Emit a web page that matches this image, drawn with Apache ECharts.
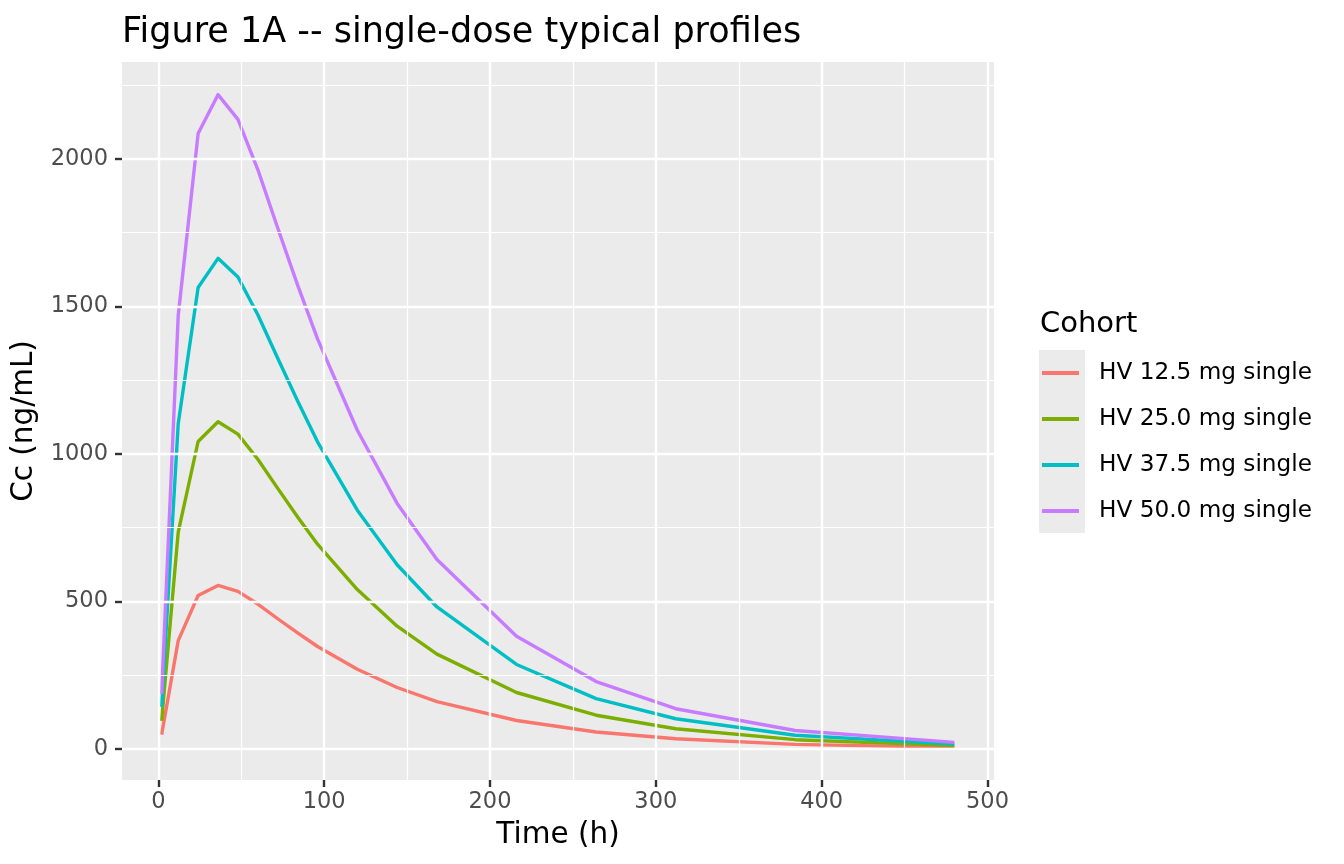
<!DOCTYPE html>
<html>
<head>
<meta charset="utf-8">
<script src="https://cdn.jsdelivr.net/npm/echarts@6/dist/echarts.min.js"></script>
<style>html,body{margin:0;padding:0;background:#fff}#c{width:1344px;height:864px}</style>
</head>
<body>
<div id="c"></div>
<script>
// ---- data ----
const timeH = [2, 12, 24, 36, 48, 60, 72, 84, 96, 120, 144, 168, 216, 264, 312, 384, 480];
const cohorts = ['HV 12.5 mg single', 'HV 25.0 mg single', 'HV 37.5 mg single', 'HV 50.0 mg single'];
const cc12_5 = [48, 367, 520, 554, 534, 491, 441, 393, 347, 270, 208, 160, 96, 57, 34, 15, 5];
const cc25_0 = [95, 735, 1042, 1109, 1067, 982, 883, 786, 694, 540, 416, 321, 191, 114, 68, 31, 11];
const cc37_5 = [142, 1102, 1564, 1663, 1600, 1472, 1324, 1179, 1041, 809, 624, 481, 286, 170, 102, 46, 16];
const cc50_0 = [186, 1469, 2086, 2218, 2134, 1964, 1766, 1572, 1390, 1080, 832, 642, 382, 228, 136, 62, 22];
const xTicks = [0, 100, 200, 300, 400, 500];
const yTicks = [0, 500, 1000, 1500, 2000];
const xMinor = [50, 150, 250, 350, 450];
const yMinor = [250, 750, 1250, 1750, 2250];
const xRange = [-21.9, 503.9];
const yRange = [-105.7, 2328.7];

const colors = ['#F8766D', '#7CAE00', '#00BFC4', '#C77CFF'];
const FONT = 'DejaVu Sans';
const seriesVals = [cc12_5, cc25_0, cc37_5, cc50_0];

const chart = echarts.init(document.getElementById('c'), null, {renderer: 'canvas'});

const gridLines = []
  .concat(xTicks.map(v => ({xAxis: v, lineStyle: {width: 2.4}})))
  .concat(xMinor.map(v => ({xAxis: v, lineStyle: {width: 1.2}})))
  .concat(yTicks.map(v => ({yAxis: v, lineStyle: {width: 2.4}})))
  .concat(yMinor.map(v => ({yAxis: v, lineStyle: {width: 1.2}})));

const plainNum = v => String(Math.round(v));

const option = {
  animation: false,
  color: colors,
  textStyle: {fontFamily: FONT},
  title: [
    {text: 'Figure 1A -- single-dose typical profiles', left: 122, top: 15, padding: 0,
     textStyle: {fontFamily: FONT, fontSize: 35, fontWeight: 'normal', color: '#000'}},
    {text: 'Cohort', left: 1040, top: 310, padding: 0,
     textStyle: {fontFamily: FONT, fontSize: 29, fontWeight: 'normal', color: '#000'}}
  ],
  graphic: [
    {type: 'rect', left: 1039, top: 350, z: 0, shape: {width: 46, height: 183}, style: {fill: '#EBEBEB'}}
  ],
  legend: {
    orient: 'vertical', left: 1042, top: 350, padding: 0, itemGap: 0,
    itemWidth: 37, itemHeight: 4, icon: 'rect',
    data: cohorts,
    textStyle: {fontFamily: FONT, fontSize: 23.2, color: '#000', lineHeight: 46, padding: [0, 0, 0, 15]}
  },
  grid: {left: 122, right: 350, top: 62, bottom: 84, show: true, backgroundColor: '#EBEBEB', borderWidth: 0, containLabel: false},
  xAxis: {
    type: 'value', min: xRange[0], max: xRange[1],
    name: 'Time (h)', nameLocation: 'middle', nameGap: 40,
    nameTextStyle: {fontFamily: FONT, fontSize: 29.5, color: '#000'},
    axisLine: {show: false, onZero: false},
    axisTick: {show: true, customValues: xTicks, length: 7, lineStyle: {color: '#333333', width: 2.4}},
    axisLabel: {customValues: xTicks, formatter: plainNum, color: '#4D4D4D', fontFamily: FONT, fontSize: 22.5, margin: 11},
    splitLine: {show: false}, minorSplitLine: {show: false}
  },
  yAxis: {
    type: 'value', min: yRange[0], max: yRange[1],
    name: 'Cc (ng/mL)', nameLocation: 'middle', nameGap: 76,
    nameTextStyle: {fontFamily: FONT, fontSize: 29.5, color: '#000'},
    axisLine: {show: false, onZero: false},
    axisTick: {show: true, customValues: yTicks, length: 7, lineStyle: {color: '#333333', width: 2.4}},
    axisLabel: {customValues: yTicks, formatter: plainNum, color: '#4D4D4D', fontFamily: FONT, fontSize: 22.5, margin: 14},
    splitLine: {show: false}, minorSplitLine: {show: false}
  },
  series: [
    {
      name: '_grid', type: 'line', data: [], silent: true, z: 1,
      markLine: {
        silent: true, symbol: ['none', 'none'], label: {show: false}, animation: false,
        lineStyle: {color: '#FFFFFF', type: 'solid', width: 2.4, opacity: 1},
        emphasis: {disabled: true},
        data: gridLines
      }
    }
  ].concat(cohorts.map((name, i) => ({
    name: name, type: 'line', z: 3,
    data: timeH.map((t, j) => [t, seriesVals[i][j]]),
    showSymbol: false, symbol: 'none',
    lineStyle: {width: 3.4, color: colors[i], join: 'round'},
    itemStyle: {color: colors[i]}
  })))
};
chart.setOption(option);
</script>
</body>
</html>
